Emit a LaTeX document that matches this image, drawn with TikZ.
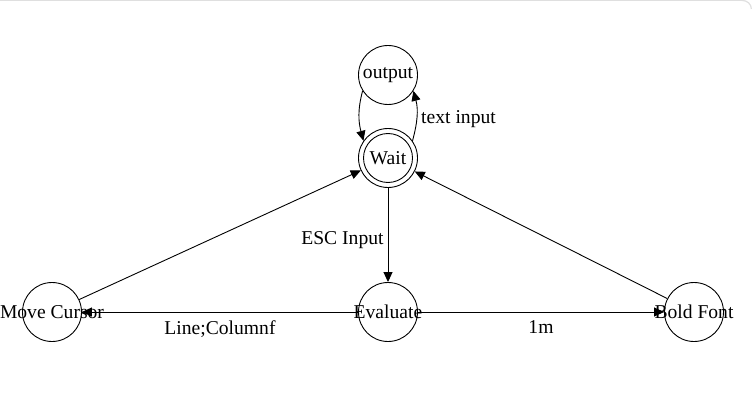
\documentclass[tikz,border=0pt]{standalone}
\usepackage{fontspec}
\setmainfont{Liberation Serif}
\usetikzlibrary{arrows.meta}
\begin{document}
\begin{tikzpicture}[x=1pt,y=1pt,
  every node/.style={font=\fontsize{19.6}{23}\selectfont},
  stnode/.style={circle,draw,line width=0.9pt,minimum size=59pt,inner sep=0pt},
  conn/.style={line width=0.9pt,-{Triangle[length=10pt,width=9pt]}},
  lbl/.style={inner sep=3pt}]
\useasboundingbox (0,0) rectangle (752,413);
\draw[gray!25,line width=1.2pt] (0,412.6) -- (742,412.6) to[out=0,in=90] (751.4,404);
\node[stnode,label={[inner sep=0pt]center:output}] (output) at (388,338) {};
\node[stnode,label={[inner sep=0pt]center:Wait}] (wait) at (388,255) {};
\draw[line width=0.9pt] (wait.center) circle (24.5);
\node[stnode] (move) at (52,101) {};
\node[stnode] (eval) at (388,101) {};
\node[stnode] (bold) at (694,101) {};
\draw[conn] (move) -- (wait);
\draw[conn] (bold) -- (wait);
\draw[conn] (wait) -- node[lbl,left,pos=0.52,yshift=-3pt,xshift=-1pt] {ESC Input} (eval);
\draw[conn] (eval) -- node[lbl,below,yshift=-5pt] {Line;Columnf} (move);
\draw[conn] (eval) -- node[lbl,below,yshift=-5pt] {1m} (bold);
\draw[conn] (wait.35) to[out=75,in=-75] node[lbl,right,pos=0.5,yshift=-3pt,xshift=1pt] {text input} (output.-32);
\draw[conn] (output.212) to[out=-105,in=105] (wait.145);
\node[inner sep=0pt] (movetext) at (move.center) {Move Cursor};
\node[inner sep=0pt] (evaltext) at (eval.center) {Evaluate};
\node[inner sep=0pt] (boldtext) at (bold.center) {Bold Font};
\end{tikzpicture}
\end{document}
